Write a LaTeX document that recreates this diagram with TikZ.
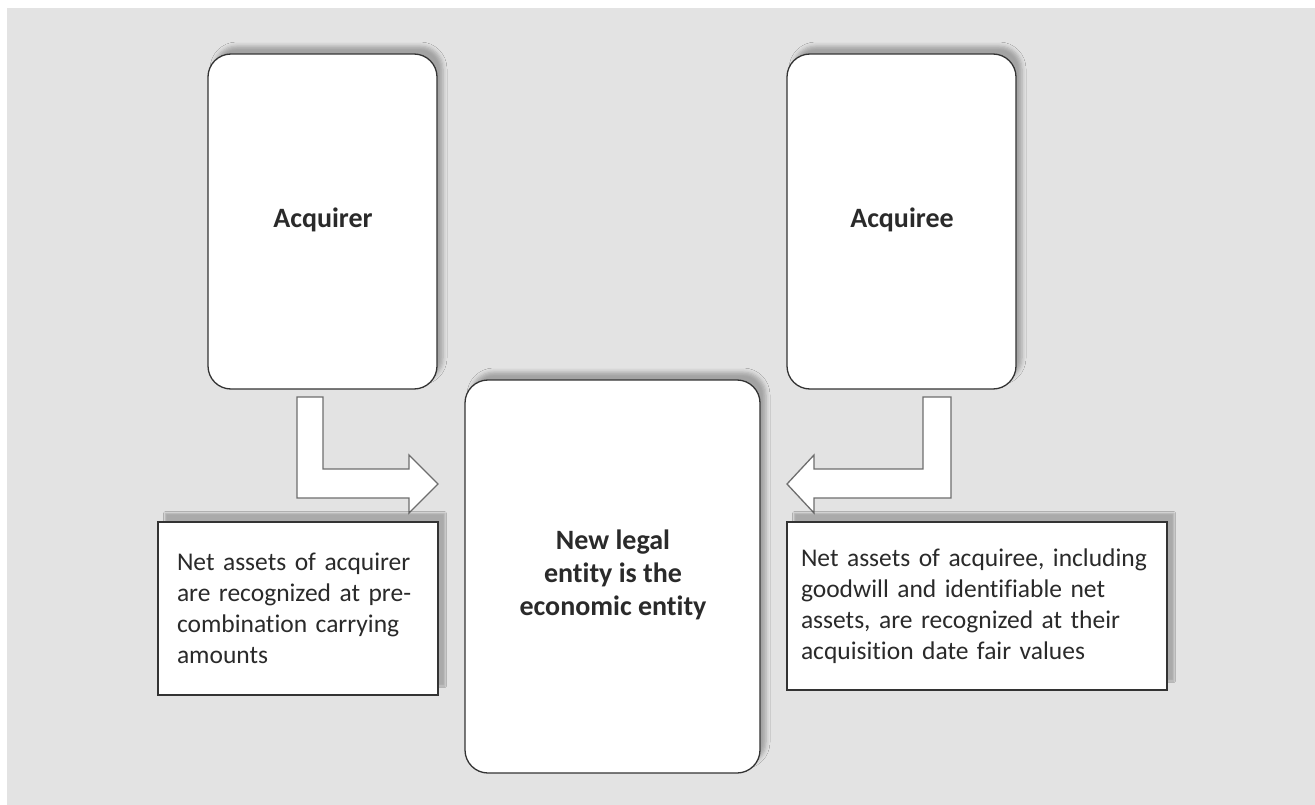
\documentclass[tikz,border=0pt]{standalone}
\usepackage{fontspec}
\setmainfont{Carlito}[Ligatures=NoCommon]
\usetikzlibrary{shadows.blur}
\definecolor{bggray}{HTML}{E3E3E3}
\definecolor{edgegray}{HTML}{333333}
\definecolor{arrowgray}{HTML}{6E6E6E}
\definecolor{txt}{HTML}{2A2A2A}
\begin{document}
\begin{tikzpicture}[x=1pt,y=-1pt,
  roundbox/.style={draw=edgegray, line width=1.3pt, fill=white, rounded corners=23pt,
    minimum width=#1, inner sep=0pt,
    blur shadow={shadow xshift=6pt, shadow yshift=8pt, shadow blur radius=4pt, shadow opacity=28}},
  textbox/.style={draw=edgegray, line width=1.3pt, fill=white, rounded corners=0pt,
    text width=#1, align=left, inner ysep=0pt, font=\fontsize{25.5}{31}\selectfont, text=txt,
    blur shadow={shadow xshift=7pt, shadow yshift=9pt, shadow blur radius=1.5pt, shadow opacity=25}},
  lbl/.style={font=\bfseries\fontsize{28}{33}\selectfont, text=txt, align=center},
  blockarrow/.style={draw=arrowgray, line width=1.3pt, fill=white, line join=miter}
]
\useasboundingbox (0,0) rectangle (1315,805);
\fill[white] (0,0) rectangle (1315,805);
\fill[bggray] (7,8) rectangle (1315,805);

% main rounded boxes
\node[roundbox=229pt, minimum height=335pt] (acq) at (322.5,221.5) {};
\node[lbl] (acqt) at (323,220) {Acquirer};
\node[roundbox=229pt, minimum height=335pt] (acqe) at (901.5,221.5) {};
\node[lbl] (acqet) at (902,220) {Acquiree};
\node[roundbox=295pt, minimum height=393pt] (new) at (612.5,576.5) {};
\node[lbl] (newt) at (613,575) {New legal\\entity is the\\economic entity};

% block arrows
\draw[blockarrow] (297,397) -- (323,397) -- (323,469) -- (409,469) -- (409,455)
  -- (438,484) -- (409,513) -- (409,498) -- (297,498) -- cycle;
\draw[blockarrow] (951,397) -- (923,397) -- (923,469) -- (814,469) -- (814,455)
  -- (787,484) -- (814,513) -- (814,498) -- (951,498) -- cycle;

% text boxes
\node[textbox=242pt, inner xsep=19pt, minimum height=173pt] (lt) at (298,608.5)
  {Net assets of acquirer\\are recognized at pre-\\combination carrying\\amounts};
\node[textbox=352pt, inner xsep=14pt, minimum height=168pt] (rt) at (977,606)
  {Net assets of acquiree, including\\goodwill and identifiable net\\assets, are recognized at their\\acquisition date fair values};
\end{tikzpicture}
\end{document}
